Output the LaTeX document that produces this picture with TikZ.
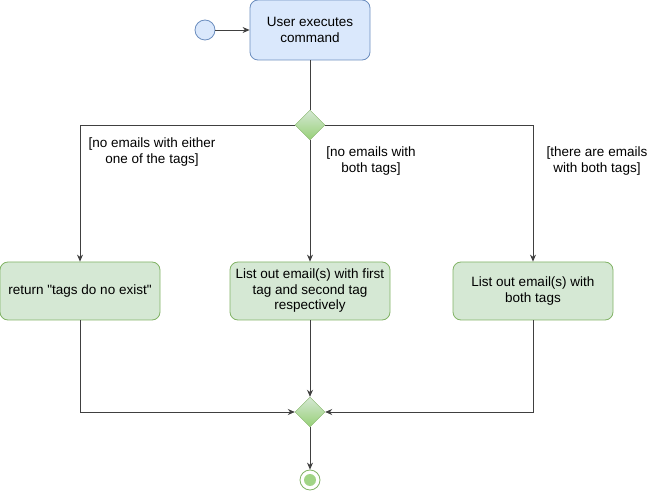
\documentclass[tikz,border=0pt]{standalone}
\usepackage{fontspec}
\setmainfont{Liberation Sans}
\usetikzlibrary{arrows.meta,shapes.geometric}

\definecolor{startfill}{HTML}{DAE8FC}
\definecolor{startline}{HTML}{6C8EBF}
\definecolor{actfill}{HTML}{D5E8D4}
\definecolor{actline}{HTML}{82B366}
\definecolor{decfill}{HTML}{97D077}

\begin{document}
\begin{tikzpicture}[>={Stealth[length=7pt,width=6pt]}, x=1pt, y=-1pt,
    font=\fontsize{13.5}{15.5}\selectfont,
    action/.style={draw=actline, fill=actfill, rounded corners=8pt, line width=0.8pt,
        minimum width=160pt, minimum height=58pt, inner sep=2pt, align=center},
    decision/.style={diamond, draw=actline, top color=actfill, bottom color=decfill,
        minimum width=30pt, minimum height=30pt, inner sep=0pt},
    flow/.style={->, black!75, line width=0.8pt},
    guard/.style={align=center, inner sep=0pt}]
    \useasboundingbox (0,0) rectangle (657,492);

    % Start
    \node[circle, draw=startline, fill=startfill, line width=0.8pt, minimum size=20pt, inner sep=0pt]
        (start) at (205,30) {};
    \node[action, draw=startline, fill=startfill, minimum width=120pt, minimum height=60pt]
        (exec) at (310,30) {User executes\\command};
    \draw[flow] (start) -- (exec);

    % Branch
    \node[decision] (split) at (310,125) {};
    \draw[flow, -] (exec) -- (split);

    \node[action] (noexist) at (80,291) {return \textquotedbl tags do no exist\textquotedbl};
    \node[action] (each) at (310,291) {List out email(s) with first\\tag and second tag\\respectively};
    \node[action] (both) at (533,291) {List out email(s) with\\both tags};

    \draw[flow] (split.west) -| (noexist.north);
    \draw[flow] (split.south) -- (each.north);
    \draw[flow] (split.east) -| (both.north);

    % Guards
    \node[guard] (gnone) at (152,152) {[no emails with either\\one of the tags]};
    \node[guard] (geach) at (371,161) {[no emails with\\both tags]};
    \node[guard] (gboth) at (597,161) {[there are emails\\with both tags]};

    % Merge
    \node[decision] (merge) at (310,412) {};
    \draw[flow] (noexist.south) |- (merge.west);
    \draw[flow] (each.south) -- (merge.north);
    \draw[flow] (both.south) |- (merge.east);

    % End
    \node[circle, draw=actline, fill=white, line width=0.8pt, minimum size=20pt, inner sep=0pt]
        (stop) at (310,480) {};
    \node[circle, fill=decfill!85!actfill, minimum size=12pt, inner sep=0pt] (stopdot) at (stop) {};
    \draw[flow] (merge.south) -- (stop.north);
\end{tikzpicture}
\end{document}
